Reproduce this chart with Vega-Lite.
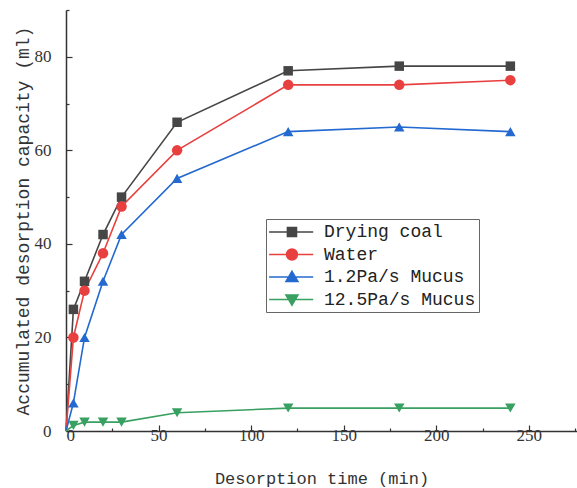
{
  "$schema": "https://vega.github.io/schema/vega-lite/v6.json",
  "width": 511,
  "height": 421,
  "autosize": "none",
  "padding": {"left": 66, "top": 10, "right": 0, "bottom": 57},
  "background": "white",
  "config": {
    "view": {"stroke": null},
    "axis": {
      "grid": false,
      "domainColor": "#333",
      "domainWidth": 1.5,
      "tickColor": "#333",
      "tickWidth": 1.2,
      "labelFont": "Liberation Serif",
      "labelFontSize": 17,
      "labelColor": "#333",
      "titleFont": "Liberation Mono",
      "titleFontWeight": "normal",
      "titleColor": "#333"
    },
    "point": {"filled": true, "opacity": 1, "size": 100}
  },
  "data": {
    "values": [
      {"series": "Drying coal", "t": 0, "v": 0},
      {"series": "Drying coal", "t": 4, "v": 26},
      {"series": "Drying coal", "t": 10, "v": 32},
      {"series": "Drying coal", "t": 20, "v": 42},
      {"series": "Drying coal", "t": 30, "v": 50},
      {"series": "Drying coal", "t": 60, "v": 66},
      {"series": "Drying coal", "t": 120, "v": 77},
      {"series": "Drying coal", "t": 180, "v": 78},
      {"series": "Drying coal", "t": 240, "v": 78},
      {"series": "Water", "t": 0, "v": 0},
      {"series": "Water", "t": 4, "v": 20},
      {"series": "Water", "t": 10, "v": 30},
      {"series": "Water", "t": 20, "v": 38},
      {"series": "Water", "t": 30, "v": 48},
      {"series": "Water", "t": 60, "v": 60},
      {"series": "Water", "t": 120, "v": 74},
      {"series": "Water", "t": 180, "v": 74},
      {"series": "Water", "t": 240, "v": 75},
      {"series": "1.2Pa/s Mucus", "t": 0, "v": 0},
      {"series": "1.2Pa/s Mucus", "t": 4, "v": 6},
      {"series": "1.2Pa/s Mucus", "t": 10, "v": 20},
      {"series": "1.2Pa/s Mucus", "t": 20, "v": 32},
      {"series": "1.2Pa/s Mucus", "t": 30, "v": 42},
      {"series": "1.2Pa/s Mucus", "t": 60, "v": 54},
      {"series": "1.2Pa/s Mucus", "t": 120, "v": 64},
      {"series": "1.2Pa/s Mucus", "t": 180, "v": 65},
      {"series": "1.2Pa/s Mucus", "t": 240, "v": 64},
      {"series": "12.5Pa/s Mucus", "t": 0, "v": 0},
      {"series": "12.5Pa/s Mucus", "t": 4, "v": 1.2},
      {"series": "12.5Pa/s Mucus", "t": 10, "v": 1.9},
      {"series": "12.5Pa/s Mucus", "t": 20, "v": 1.9},
      {"series": "12.5Pa/s Mucus", "t": 30, "v": 1.9},
      {"series": "12.5Pa/s Mucus", "t": 60, "v": 3.9},
      {"series": "12.5Pa/s Mucus", "t": 120, "v": 4.9},
      {"series": "12.5Pa/s Mucus", "t": 180, "v": 4.9},
      {"series": "12.5Pa/s Mucus", "t": 240, "v": 4.9}
    ]
  },
  "encoding": {
    "x": {
      "field": "t",
      "type": "quantitative",
      "scale": {"domain": [0, 276], "nice": false, "zero": false},
      "axis": {
        "title": "Desorption time (min)",
        "titleFontSize": 17,
        "titlePadding": 27,
        "values": [0, 25, 50, 75, 100, 125, 150, 175, 200, 225, 250, 275],
        "labelExpr": "datum.value % 50 === 0 ? datum.value : ''",
        "tickSize": {"condition": {"test": "datum.value % 50 === 0", "value": -6}, "value": -3},
        "labelPadding": 2
      }
    },
    "y": {
      "field": "v",
      "type": "quantitative",
      "scale": {"domain": [0, 90], "nice": false},
      "axis": {
        "title": "Accumulated desorption capacity (ml)",
        "titleFontSize": 18,
        "titlePadding": 2,
        "values": [0, 10, 20, 30, 40, 50, 60, 70, 80, 90],
        "labelExpr": "datum.value % 20 === 0 ? datum.value : ''",
        "tickSize": {"condition": {"test": "datum.value % 20 === 0", "value": -6}, "value": -3},
        "labelPadding": 21
      }
    },
    "color": {
      "field": "series",
      "type": "nominal",
      "scale": {
        "domain": ["Drying coal", "Water", "1.2Pa/s Mucus", "12.5Pa/s Mucus"],
        "range": ["#464646", "#e8403f", "#2369d0", "#38a060"]
      },
      "legend": {
        "title": null,
        "orient": "none",
        "legendX": 200,
        "legendY": 209,
        "padding": 3,
        "rowPadding": 3.5,
        "labelOffset": 35,
        "labelFont": "Liberation Mono",
        "labelFontSize": 18,
        "labelColor": "#222",
        "symbolSize": 324,
        "symbolOpacity": 1,
        "symbolStrokeWidth": 1.6,
        "strokeColor": "#666",
        "fillColor": "white",
        "encode": {
          "symbols": {
            "update": {
              "stroke": {"scale": "color", "field": "value"},
              "fill": {"scale": "color", "field": "value"},
              "strokeWidth": {"value": 1.6},
              "shape": {"signal": "datum.value === 'Drying coal' ? 'M-1.1,0H3.8M0.94,-0.5H1.94V0.5H0.94Z' : datum.value === 'Water' ? 'M-1.1,0H3.8M0.84,0A0.6,0.6 0 1,0 2.04,0A0.6,0.6 0 1,0 0.84,0Z' : datum.value === '1.2Pa/s Mucus' ? 'M-1.1,0H3.8M1.44,-0.62L2.1,0.5H0.78Z' : 'M-1.1,0H3.8M1.44,0.62L2.1,-0.5H0.78Z'"},
              "size": {"value": 324},
              "opacity": {"value": 1}
            }
          }
        }
      }
    }
  },
  "layer": [
    {
      "mark": {"type": "line", "strokeWidth": 1.6},
      "encoding": {
        "detail": {"field": "series"}
      }
    },
    {
      "transform": [{"filter": "datum.t > 0 && datum.series === 'Drying coal'"}],
      "mark": {"type": "point", "shape": "square", "size": 90}
    },
    {
      "transform": [{"filter": "datum.t > 0 && datum.series === 'Water'"}],
      "mark": {"type": "point", "shape": "circle", "size": 110}
    },
    {
      "transform": [{"filter": "datum.t > 0 && datum.series === '1.2Pa/s Mucus'"}],
      "mark": {"type": "point", "shape": "triangle-up", "size": 110}
    },
    {
      "transform": [{"filter": "datum.t > 0 && datum.series === '12.5Pa/s Mucus'"}],
      "mark": {"type": "point", "shape": "triangle-down", "size": 110}
    }
  ]
}
